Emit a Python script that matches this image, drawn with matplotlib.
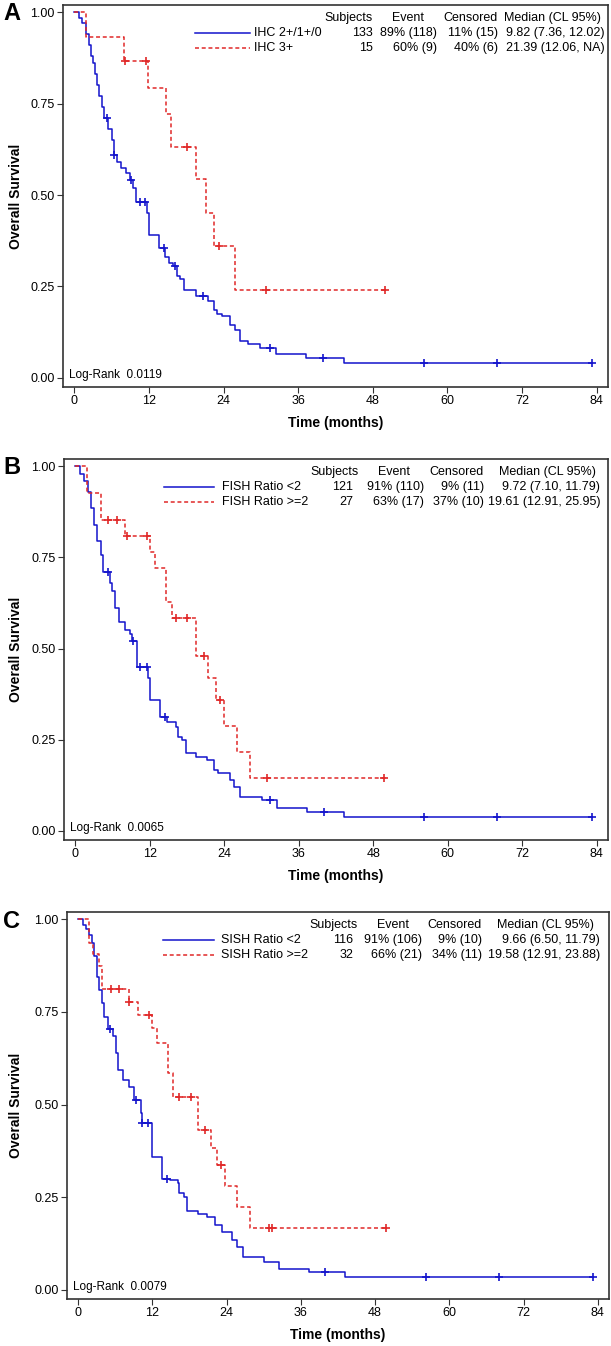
import numpy as np
import matplotlib
matplotlib.use('Agg')
from matplotlib import pyplot as plt
from matplotlib.lines import Line2D

plt.rcParams['font.family'] = ['Liberation Sans', 'DejaVu Sans']

# ---------------------------------------------------------------
# data (months, survival)
# ---------------------------------------------------------------

# Panel A - IHC
ihcLow_t = [0, 0.8, 1.3, 1.9, 2.3, 2.7, 3.0, 3.3, 3.6, 4.0, 4.4, 4.8, 5.4, 6.0, 6.4,
            6.9, 7.6, 8.4, 8.9, 9.5, 10.0, 11.7, 12.0, 13.7, 14.6, 15.2, 15.9, 16.5,
            17.0, 17.6, 19.5, 21.5, 22.4, 23.0, 23.8, 25.0, 25.8, 26.6, 27.9, 29.8,
            32.5, 37.3, 43.3]
ihcLow_s = [1, 0.985, 0.97, 0.94, 0.91, 0.88, 0.86, 0.83, 0.80, 0.77, 0.74, 0.71, 0.68,
            0.65, 0.61, 0.59, 0.575, 0.56, 0.54, 0.52, 0.48, 0.45, 0.39, 0.355, 0.33,
            0.315, 0.305, 0.28, 0.27, 0.24, 0.225, 0.21, 0.185, 0.175, 0.17, 0.145,
            0.13, 0.10, 0.093, 0.081, 0.065, 0.054, 0.04]
ihcLow_end = 83.2
ihcLow_cens = [5.2, 6.4, 9.2, 10.5, 11.3, 14.4, 16.2, 20.7, 31.4, 40.0, 56.2, 68.0, 83.2]

ihcHigh_t = [0, 1.85, 7.96, 11.9, 14.8, 15.6, 19.5, 21.2, 22.4, 25.9]
ihcHigh_s = [1, 0.933, 0.867, 0.794, 0.722, 0.632, 0.545, 0.45, 0.36, 0.24]
ihcHigh_end = 50.0
ihcHigh_cens = [8.1, 11.5, 18.1, 23.2, 30.9, 49.9]

# Panel B - FISH
fishLow_t = [0, 0.8, 1.4, 2.0, 2.6, 3.0, 3.5, 4.1, 4.5, 5.6, 6.0, 6.35, 7.0, 8.1, 8.9,
             9.2, 9.9, 11.8, 12.1, 13.7, 14.8, 16.2, 16.5, 17.2, 17.8, 19.4, 21.2,
             22.3, 23.0, 25.0, 25.6, 26.6, 30.1, 32.5, 37.4, 43.3]
fishLow_s = [1, 0.98, 0.96, 0.93, 0.885, 0.84, 0.794, 0.757, 0.711, 0.68, 0.657, 0.61,
             0.574, 0.552, 0.54, 0.52, 0.45, 0.42, 0.359, 0.313, 0.30, 0.286, 0.258,
             0.25, 0.213, 0.204, 0.195, 0.167, 0.16, 0.14, 0.121, 0.094, 0.085, 0.064,
             0.053, 0.039]
fishLow_end = 83.2
fishLow_cens = [5.3, 9.35, 10.5, 11.5, 14.5, 31.4, 40.0, 56.2, 68.0, 83.2]

fishHigh_t = [0, 1.85, 4.2, 8.1, 12.0, 12.9, 14.7, 15.6, 19.5, 21.4, 22.6, 23.9, 26.0, 28.1]
fishHigh_s = [1, 0.926, 0.852, 0.81, 0.766, 0.722, 0.629, 0.585, 0.48, 0.42, 0.359,
              0.288, 0.216, 0.144]
fishHigh_end = 50.0
fishHigh_cens = [5.3, 6.7, 8.3, 11.6, 16.3, 18.0, 20.7, 23.3, 30.9, 49.8]

# Panel C - SISH
sishLow_t = [0, 0.8, 1.3, 1.8, 2.2, 2.6, 3.0, 3.4, 3.8, 4.2, 4.8, 5.6, 6.1, 6.5, 7.2,
             8.2, 9.0, 10.1, 10.3, 12.0, 13.6, 14.8, 16.1, 16.3, 17.1, 17.6, 19.3,
             20.9, 22.1, 23.2, 24.9, 25.7, 26.6, 30.0, 32.5, 37.3, 43.2]
sishLow_s = [1, 0.985, 0.975, 0.958, 0.936, 0.90, 0.845, 0.81, 0.774, 0.737, 0.703,
             0.685, 0.638, 0.593, 0.566, 0.548, 0.512, 0.476, 0.449, 0.359, 0.30,
             0.296, 0.287, 0.26, 0.25, 0.213, 0.204, 0.197, 0.174, 0.156, 0.134,
             0.116, 0.089, 0.075, 0.057, 0.048, 0.035]
sishLow_end = 83.2
sishLow_cens = [5.2, 9.3, 10.4, 11.3, 14.4, 39.9, 56.2, 68.0, 83.2]

sishHigh_t = [0, 1.8, 2.4, 3.4, 3.9, 8.2, 9.7, 12.0, 12.8, 14.5, 15.3, 19.4, 21.4,
              22.4, 23.7, 25.7, 27.8]
sishHigh_s = [1, 0.9375, 0.906, 0.875, 0.8125, 0.778, 0.742, 0.706, 0.667, 0.585,
              0.52, 0.431, 0.384, 0.336, 0.28, 0.224, 0.168]
sishHigh_end = 50.0
sishHigh_cens = [5.3, 6.6, 8.3, 11.5, 16.3, 18.2, 20.5, 23.1, 30.9, 31.3, 49.8]

# legend table text
header = ["Subjects", "Event", "Censored", "Median (CL 95%)"]
groupLabels = [["IHC 2+/1+/0", "IHC 3+"],
               ["FISH Ratio <2", "FISH Ratio >=2"],
               ["SISH Ratio <2", "SISH Ratio >=2"]]
tableRows = [[["133", "89% (118)", "11% (15)", "9.82 (7.36, 12.02)"],
              ["15", "60% (9)", "40% (6)", "21.39 (12.06, NA)"]],
             [["121", "91% (110)", "9% (11)", "9.72 (7.10, 11.79)"],
              ["27", "63% (17)", "37% (10)", "19.61 (12.91, 25.95)"]],
             [["116", "91% (106)", "9% (10)", "9.66 (6.50, 11.79)"],
              ["32", "66% (21)", "34% (11)", "19.58 (12.91, 23.88)"]]]
logRank = ["0.0119", "0.0065", "0.0079"]
panelLetters = ["A", "B", "C"]

# ===========================
# plot
# ===========================
W, H = 611, 1346
fig = plt.figure(figsize=(W/100, H/100), dpi=100)

blue = '#1414cc'
red = '#e02828'

# axes rectangles in pixels: left, right, top, bottom
rects = [(63, 608, 5, 387), (64, 608, 459, 840), (67, 609, 912, 1299)]
# x positions (px) of legend sample, label, header right edges, row right edges
legX = [(195, 250, 254), (164, 214, 222), (163, 214, 221)]
headX = [(373, 424, 498, 601), (359, 410, 484, 596), (358, 409, 482, 594)]
rowX = [(373, 437, 498, 605), (353, 424, 484, 600), (353, 422, 482, 600)]

curves = [((ihcLow_t, ihcLow_s, ihcLow_end, ihcLow_cens),
           (ihcHigh_t, ihcHigh_s, ihcHigh_end, ihcHigh_cens)),
          ((fishLow_t, fishLow_s, fishLow_end, fishLow_cens),
           (fishHigh_t, fishHigh_s, fishHigh_end, fishHigh_cens)),
          ((sishLow_t, sishLow_s, sishLow_end, sishLow_cens),
           (sishHigh_t, sishHigh_s, sishHigh_end, sishHigh_cens))]


def surv_at(t, s, x):
    idx = np.searchsorted(t, x, side='right') - 1
    return np.asarray(s)[idx]


for k in range(3):
    l, r, t, b = rects[k]
    ax = fig.add_axes([l/W, 1 - b/H, (r - l)/W, (b - t)/H])

    for (tt, ss, tend, cens), col, dash in zip(curves[k], [blue, red], [None, (2.6, 1.8)]):
        x = list(tt) + [tend]
        y = list(ss) + [ss[-1]]
        line, = ax.step(x, y, where='post', color=col, lw=1.1)
        if dash is not None:
            line.set_dashes(dash)
        ax.plot(cens, surv_at(tt, ss, cens), ls='none', marker='+', ms=6,
                mew=1.2, color=col)

    ax.set_xlim(-1.8, 85.8)
    ax.set_ylim(-0.025, 1.02)
    ax.set_xticks(np.arange(0, 85, 12))
    ax.set_yticks([0, 0.25, 0.5, 0.75, 1.0])
    ax.set_yticklabels(["0.00", "0.25", "0.50", "0.75", "1.00"])
    ax.tick_params(labelsize=9, length=4, width=0.8, color='#333333', pad=2)
    for sp in ax.spines.values():
        sp.set_color('#333333')
        sp.set_linewidth(1.2)

    ax.set_xlabel("Time (months)", fontsize=10, fontweight='bold', va='center')
    ax.xaxis.set_label_coords(0.5, -36/(b - t))
    ax.set_ylabel("Overall Survival", fontsize=10, fontweight='bold', va='center')
    ax.yaxis.set_label_coords((16 - l)/(r - l), 0.5)

    ax.text(6/(r - l), 12/(b - t), "Log-Rank  " + logRank[k], transform=ax.transAxes,
            fontsize=8.5, va='center', ha='left')

    # panel letter
    fig.text(3/W, 1 - (t + 9)/H, panelLetters[k], fontsize=17, fontweight='bold',
             ha='left', va='center')

    # legend table
    yh = 1 - (t + 13)/H
    for j, txt in enumerate(header):
        fig.text(headX[k][j]/W, yh, txt, fontsize=9, ha='right', va='center')
    for i in range(2):
        yr = 1 - (t + 28 + 15*i)/H
        x0, x1, xl = legX[k]
        ln = Line2D([x0/W, x1/W], [yr, yr], transform=fig.transFigure,
                    color=[blue, red][i], lw=1.1)
        if i == 1:
            ln.set_dashes((2.6, 1.8))
        fig.add_artist(ln)
        fig.text(xl/W, yr, groupLabels[k][i], fontsize=9, ha='left', va='center')
        for j, txt in enumerate(tableRows[k][i]):
            fig.text(rowX[k][j]/W, yr, txt, fontsize=9, ha='right', va='center')

plt.savefig("out.png", dpi=100)
